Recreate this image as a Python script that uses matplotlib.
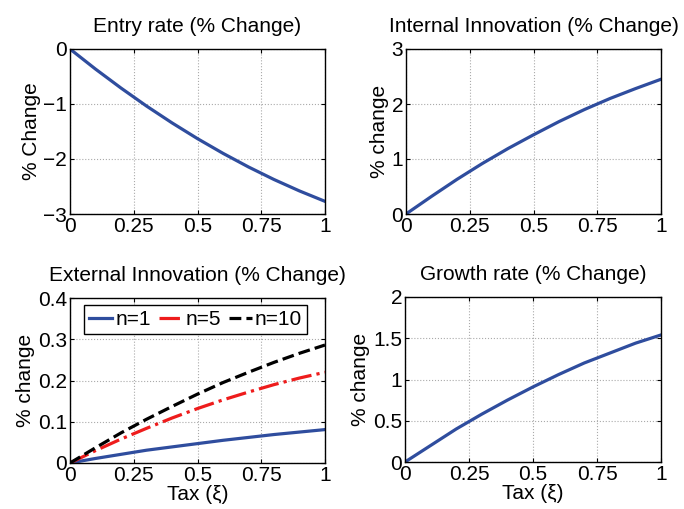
import numpy as np
import matplotlib
matplotlib.use('Agg')
from matplotlib import pyplot as plt

plt.rcParams['font.family'] = ['Liberation Sans', 'DejaVu Sans']
plt.rcParams['font.size'] = 15

tax = [0, 0.1, 0.2, 0.3, 0.4, 0.5, 0.6, 0.7, 0.8, 0.9, 1.0]
entry = [0, -0.365, -0.71, -1.037, -1.343, -1.63, -1.897, -2.145, -2.373, -2.581, -2.77]
internal = [0, 0.32, 0.63, 0.92, 1.19, 1.44, 1.68, 1.90, 2.10, 2.28, 2.45]
ext_n1 = [0, 0.011, 0.021, 0.031, 0.039, 0.047, 0.055, 0.062, 0.069, 0.075, 0.081]
ext_n5 = [0, 0.030, 0.058, 0.084, 0.109, 0.132, 0.153, 0.172, 0.190, 0.206, 0.220]
ext_n10 = [0, 0.037, 0.073, 0.106, 0.137, 0.167, 0.195, 0.220, 0.244, 0.266, 0.286]
growth = [0, 0.20, 0.40, 0.58, 0.75, 0.91, 1.06, 1.20, 1.32, 1.44, 1.54]

xticks = [0, 0.25, 0.5, 0.75, 1]
xticklabels = ['0', '0.25', '0.5', '0.75', '1']

blue = '#2f4d9e'
W, H = 684, 509

fig = plt.figure(figsize=(6.84, 5.09), dpi=100)

def make_ax(l, t, r, b):
    ax = fig.add_axes([l / W, 1 - b / H, (r - l) / W, (b - t) / H])
    ax.set_xlim(0, 1)
    ax.set_xticks(xticks)
    ax.set_xticklabels(xticklabels)
    ax.grid(True, linestyle=':', color='#aaaaaa', linewidth=0.8)
    ax.tick_params(direction='in', top=True, right=True, length=3, pad=2)
    for s in ax.spines.values():
        s.set_linewidth(1.0)
    return ax

ax1 = make_ax(70, 49, 325, 214)
ax1.plot(tax, entry, color=blue, lw=2.3)
ax1.set_ylim(-3, 0)
ax1.set_yticks([-3, -2, -1, 0])
ax1.set_yticklabels(['\u22123', '\u22122', '\u22121', '0'])
ax1.set_title('Entry rate (% Change)', fontsize=15, pad=12)
ax1.set_ylabel('% Change', labelpad=2)

ax2 = make_ax(406, 49, 661, 214)
ax2.plot(tax, internal, color=blue, lw=2.3)
ax2.set_ylim(0, 3)
ax2.set_yticks([0, 1, 2, 3])
ax2.set_title('Internal Innovation (% Change)', fontsize=15, pad=12)
ax2.set_ylabel('% change', labelpad=2)

ax3 = make_ax(70, 298, 325, 463)
ax3.plot(tax, ext_n1, color=blue, lw=2.3, label='n=1')
ax3.plot(tax, ext_n5, color='#ee1c1c', lw=2.3, ls='-.', label='n=5')
ax3.plot(tax, ext_n10, color='black', lw=2.3, ls='--', label='n=10')
ax3.set_ylim(0, 0.4)
ax3.set_yticks([0, 0.1, 0.2, 0.3, 0.4])
ax3.set_yticklabels(['0', '0.1', '0.2', '0.3', '0.4'])
ax3.set_title('External Innovation (% Change)', fontsize=15, pad=12)
ax3.set_ylabel('% change', labelpad=2)
ax3.set_xlabel('Tax (\u03be)', labelpad=0)
leg = ax3.legend(loc='upper left', ncol=3, fancybox=False, framealpha=1,
                 edgecolor='black', handlelength=1.1, handletextpad=0.15,
                 columnspacing=0.4, borderpad=0.25, fontsize=15,
                 borderaxespad=0, bbox_to_anchor=(0.055, 0.96))
leg.get_frame().set_linewidth(1.0)

ax4 = make_ax(405, 297, 661, 462)
ax4.plot(tax, growth, color=blue, lw=2.3)
ax4.set_ylim(0, 2)
ax4.set_yticks([0, 0.5, 1, 1.5, 2])
ax4.set_yticklabels(['0', '0.5', '1', '1.5', '2'])
ax4.set_title('Growth rate (% Change)', fontsize=15, pad=12)
ax4.set_ylabel('% change', labelpad=2)
ax4.set_xlabel('Tax (\u03be)', labelpad=0)

fig.savefig('out.png', dpi=100)
